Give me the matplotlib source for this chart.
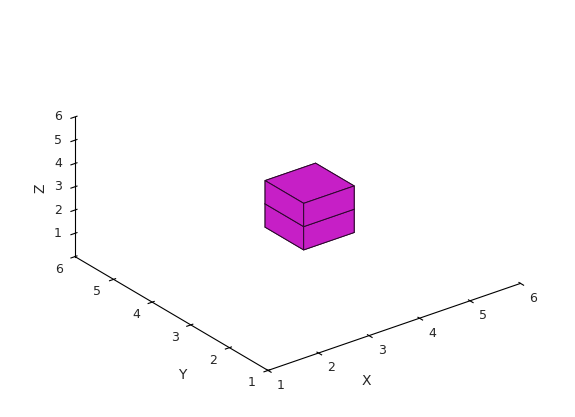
import matplotlib
matplotlib.use('Agg')
import matplotlib.pyplot as plt
from mpl_toolkits.mplot3d import proj3d

# two unit cubes stacked on top of each other (lower corner + size)
cube_x = [4, 4]
cube_y = [4, 4]
cube_z = [0, 1]
cube_dx = [1, 1]
cube_dy = [1, 1]
cube_dz = [1, 1]

x_ticks = [1, 2, 3, 4, 5, 6]
y_ticks = [1, 2, 3, 4, 5, 6]
z_ticks = [1, 2, 3, 4, 5, 6]
x_lim = (1, 6)
y_lim = (1, 6)
z_lim = (0, 6)

fig = plt.figure(figsize=(5.75, 4.17), dpi=100)
ax = fig.add_axes([0.1454, 0.0065, 0.7252, 1.0], projection='3d', proj_type='ortho')
ax.view_init(elev=26.8, azim=-127.4)
ax.set_box_aspect((1.5245, 1.5245, 0.7506), zoom=1.108)

ax.bar3d(cube_x, cube_y, cube_z, cube_dx, cube_dy, cube_dz,
         color='#c61fc6', edgecolor='#2a082a', linewidth=0.7, shade=False)

ax.set_xlim(*x_lim)
ax.set_ylim(*y_lim)
ax.set_zlim(*z_lim)
ax.set_xticks(x_ticks)
ax.set_yticks(y_ticks)
ax.set_zticks(z_ticks)
ax.grid(False)
for a in (ax.xaxis, ax.yaxis, ax.zaxis):
    a.set_pane_color((1, 1, 1, 0))
    a.pane.set_edgecolor((1, 1, 1, 0))
    a.line.set_color('k')
    a.line.set_linewidth(0.8)
    a.set_tick_params(color='k', width=0.8, labelbottom=False)
    a.label.set_visible(False)

# text at a 3d point, but as a plain 2d text (octave-like placement)
M = ax.get_proj()
def label3d(x, y, z, s, **kw):
    px, py, _ = proj3d.proj_transform(x, y, z, M)
    ax.text2D(px, py, s, transform=ax.transData, ha='center', va='center',
              color='#262626', **kw)

fs = 9
for v in x_ticks:
    label3d(v - 0.155, y_lim[0] - 0.535, z_lim[0], str(v), fontsize=fs)
for v in y_ticks:
    label3d(x_lim[0] - 0.465, v - 0.19, z_lim[0], str(v), fontsize=fs)
for v in z_ticks:
    label3d(x_lim[0] - 0.213, y_lim[1] + 0.161, v, str(v), fontsize=fs)

label3d(2.0, -0.24, 0, 'X', fontsize=10)
label3d(-0.18, 1.68, 0, 'Y', fontsize=10)
label3d(0.563, 6.331, 2.92, 'Z', fontsize=10, rotation=90)

fig.savefig('out.png', dpi=100)
